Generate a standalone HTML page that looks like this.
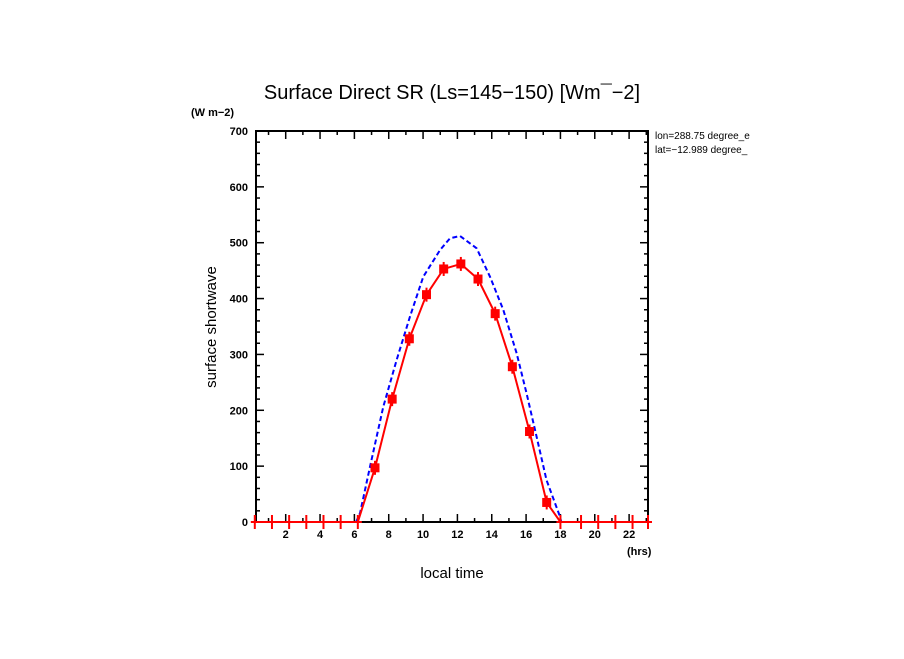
<!DOCTYPE html>
<html><head><meta charset="utf-8"><style>
body{margin:0;background:#fff;width:904px;height:654px;overflow:hidden}
text{font-family:"Liberation Sans",sans-serif}
</style></head><body>
<svg id="chart" width="904" height="654" xmlns="http://www.w3.org/2000/svg">
<text x="452" y="99" text-anchor="middle" font-size="20">Surface Direct SR (Ls=145−150) [Wm¯−2]</text>
<text x="191" y="116" font-size="11" font-weight="bold">(W m−2)</text>
<text x="655" y="139" font-size="10">lon=288.75 degree_e</text>
<text x="655" y="153" font-size="10">lat=−12.989 degree_</text>
<rect x="779" y="128" width="60" height="30" fill="#fff"/>
<text transform="translate(216,327) rotate(-90)" text-anchor="middle" font-size="15">surface shortwave</text>
<text x="452" y="578" text-anchor="middle" font-size="15">local time</text>
<text x="627" y="555" font-size="11" font-weight="bold">(hrs)</text>
<g id="axes"></g>
<g id="series"></g>
</svg>
<script>
const xTicks=[2,4,6,8,10,12,14,16,18,20,22];
const yTicks=[0,100,200,300,400,500,600,700];
const redHours=[0.2,1.2,2.2,3.2,4.2,5.2,6.2,7.2,8.2,9.2,10.2,11.2,12.2,13.2,14.2,15.2,16.2,17.2,18.0,19.2,20.2,21.2,22.2,23.1];
const redValues=[0,0,0,0,0,0,0,97,220,328,407,453,462,435,373,278,162,35,0,0,0,0,0,0];
const blueHours=[6.1,6.33,6.91,7.68,8.46,9.24,10.01,10.99,11.57,12.15,13.12,13.9,14.67,15.45,16.03,16.61,17.19,17.97,18.05];
const blueValues=[0,16,99,206,290,368,439,487,508,512,490,439,380,302,230,153,75,10,0];
const L=256,R=648,T=131,B=522,x0=0.27,x1=23.1;
const sx=h=>L+(h-x0)/(x1-x0)*(R-L);
const sy=v=>B-v/700*(B-T);
const NS="http://www.w3.org/2000/svg";
function mk(tag,attrs,parent){const e=document.createElementNS(NS,tag);for(const k in attrs)e.setAttribute(k,attrs[k]);parent.appendChild(e);return e;}
const ax=document.getElementById('axes'),sr=document.getElementById('series');
const frame=mk('rect',{x:L,y:T,width:R-L,height:B-T,fill:'none',stroke:'#000','stroke-width':2},ax);


for(let h=1;h<=23;h++){const X=sx(h);if(X>R)break;const len=h%2==0?8:4;
 mk('line',{x1:X,y1:B,x2:X,y2:B-len,stroke:'#000','stroke-width':1.5},ax);
 mk('line',{x1:X,y1:T,x2:X,y2:T+len,stroke:'#000','stroke-width':1.5},ax);}
xTicks.forEach(t=>{const e=mk('text',{x:sx(t),y:538,'text-anchor':'middle','font-size':11,'font-weight':'bold'},ax);e.textContent=t;
 
 });
for(let v=0;v<=700;v+=20){const Y=sy(v);const len=v%100==0?8:4;
 mk('line',{x1:L,y1:Y,x2:L+len,y2:Y,stroke:'#000','stroke-width':1.5},ax);
 mk('line',{x1:R,y1:Y,x2:R-len,y2:Y,stroke:'#000','stroke-width':1.5},ax);}
yTicks.forEach(t=>{const e=mk('text',{x:248,y:sy(t)+4,'text-anchor':'end','font-size':11,'font-weight':'bold'},ax);e.textContent=t;
 
 });
const bl=mk('polyline',{points:blueHours.map((h,i)=>sx(h)+','+sy(blueValues[i])).join(' '),fill:'none',stroke:'#0000ff','stroke-width':2,'stroke-dasharray':'5,3'},sr);


const rl=mk('polyline',{points:redHours.map((h,i)=>sx(h)+','+sy(redValues[i])).join(' '),fill:'none',stroke:'#ff0000','stroke-width':2},sr);


redHours.forEach((h,i)=>{const X=sx(h),Y=sy(redValues[i]);
 const g=mk('g',{},sr);
 
 
 mk('line',{x1:X,y1:Y-7,x2:X,y2:Y+7,stroke:'#ff0000','stroke-width':2},g);
 if(redValues[i]>0)mk('rect',{x:X-4.5,y:Y-4.5,width:9,height:9,fill:'#ff0000'},g);
 else mk('line',{x1:X-4,y1:Y,x2:X+4,y2:Y,stroke:'#ff0000','stroke-width':2},g);});
</script>
</body></html>
